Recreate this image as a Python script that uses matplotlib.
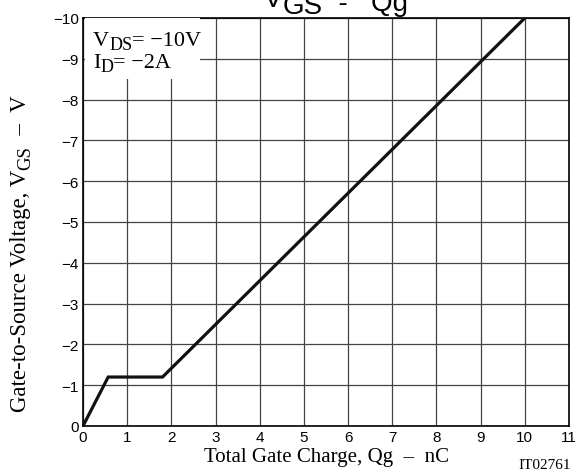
import matplotlib
matplotlib.use('Agg')
import matplotlib.pyplot as plt
from matplotlib.patches import Rectangle

# gate charge curve
qg = [0, 0.57, 1.8, 10]
vgs = [0, -1.2, -1.2, -10]

xticks = list(range(0, 12))
yticks = list(range(0, -11, -1))

sans = 'Liberation Sans'
serif = 'Liberation Serif'
MINUS = '\u2212'
DASH = '\u2013'

W, H = 579, 477
fig = plt.figure(figsize=(W / 100, H / 100), dpi=100)
renderer = fig.canvas.get_renderer()


def run_text(x, y, pieces, family, rotation=0, zorder=5):
    """Lay out text pieces one after another (pixel coords from top-left).
    pieces: list of (text, size, shift) where shift moves the baseline down."""
    for s, size, shift in pieces:
        if rotation == 0:
            px, py = x, y + shift
        else:
            px, py = x + shift, y
        t = fig.text(px / W, 1 - py / H, s, fontfamily=family, fontsize=size,
                     ha='left', va='baseline', rotation=rotation,
                     rotation_mode='anchor', zorder=zorder)
        ext = t.get_window_extent(renderer)
        if rotation == 0:
            x += ext.width
        else:
            y -= ext.height


ax = fig.add_axes([83 / W, 1 - 427 / H, 486 / W, 408 / H])

ax.set_xlim(0, 11)
ax.set_ylim(0, -10)
ax.set_xticks(xticks)
ax.set_yticks(yticks)
ax.set_xticklabels([str(t) for t in xticks], fontfamily=sans, fontsize=11)
ax.set_yticklabels([str(t).replace('-', MINUS) for t in yticks], fontfamily=sans, fontsize=11)
ax.tick_params(length=0, pad=3)
ax.grid(True, color='#444444', linewidth=0.9)
ax.set_axisbelow(True)
for s in ax.spines.values():
    s.set_linewidth(1.2)
    s.set_color('black')

ax.plot(qg, vgs, color='#111111', linewidth=2.3, solid_joinstyle='miter', zorder=4)

# condition box
ax.add_patch(Rectangle((0.05, -10), 2.6, 1.5, facecolor='white', edgecolor='none', zorder=3))
run_text(93, 46, [('V', 16, 0), ('DS', 13, 4), ('= ' + MINUS + '10V', 16, 0)], serif)
run_text(93, 68, [('I', 16, 0), ('D', 13, 4), ('= ' + MINUS + '2A', 16, 0)], serif)

ax.set_xlabel('Total Gate Charge, Qg  ' + DASH + '  nC', fontfamily=serif, fontsize=15, labelpad=2)
run_text(26, 412, [('Gate-to-Source Voltage, V', 16.5, 0), ('GS', 13.5, 4), ('  ' + DASH + '  V', 16.5, 0)],
         serif, rotation=90)
fig.text(545 / W, 1 - 469 / H, 'IT02761', fontfamily=serif, fontsize=11, ha='center', va='baseline')

# title, partly above the top edge as in the reference
run_text(264, 7, [('V', 20, 0), ('GS', 20, 7), ('  -   Qg', 20, 4)], sans)

fig.savefig('out.png', dpi=100)
